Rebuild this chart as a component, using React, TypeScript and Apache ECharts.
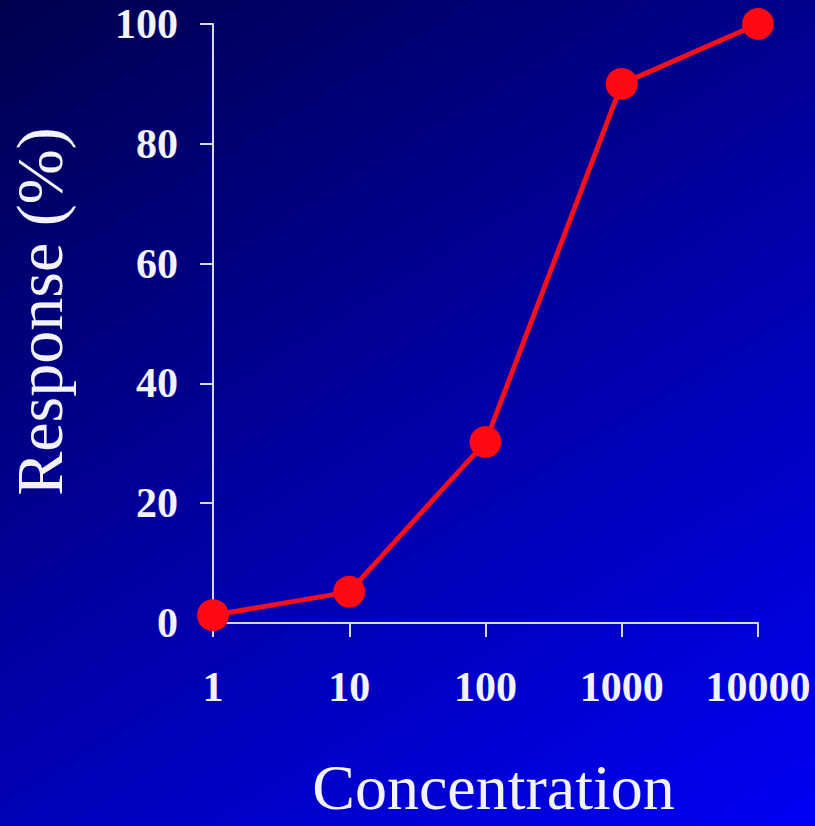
import React, { useEffect, useRef } from "react";
import * as echarts from "echarts";

const concentrations = [1, 10, 100, 1000, 10000];
const responses = [1.3, 5.2, 30.2, 90, 100];
const yTicks = [0, 20, 40, 60, 80, 100];
const xTitle = "Concentration";
const yTitle = "Response (%)";

export default function App() {
  const ref = useRef<HTMLDivElement>(null);
  useEffect(() => {
    document.body.style.margin = "0";
    const chart = echarts.init(ref.current!, null, { renderer: "svg" });
    const font = "'Liberation Serif', 'Times New Roman', serif";
    const axisColor = "#d8d8e4";
    chart.setOption({
      animation: false,
      backgroundColor: new echarts.graphic.LinearGradient(0, 0, 0.7, 1.15, [
        { offset: 0, color: "#00004e" },
        { offset: 1, color: "#0000f2" },
      ]),
      grid: { left: 213, right: 57, top: 24, bottom: 203, containLabel: false, outerBoundsMode: "none" },
      xAxis: {
        type: "log",
        logBase: 10,
        min: 1,
        max: 10000,
        name: xTitle,
        nameLocation: "middle",
        nameGap: 136,
        nameTextStyle: {
          color: "#f2f2f8",
          fontFamily: font,
          fontSize: 64,
          lineHeight: 56,
          padding: [0, 0, 0, 16],
        },
        axisLine: { show: true, lineStyle: { color: axisColor, width: 2 } },
        axisTick: { show: true, length: 14, lineStyle: { color: axisColor, width: 2 } },
        minorTick: { show: false },
        splitLine: { show: false },
        axisLabel: {
          color: "#f2f2f8",
          fontFamily: font,
          fontSize: 42,
          fontWeight: "bold",
          margin: 43,
          formatter: (v: number) => String(Math.round(v)),
        },
      },
      yAxis: {
        type: "value",
        min: yTicks[0],
        max: yTicks[yTicks.length - 1],
        interval: 20,
        name: yTitle,
        nameLocation: "middle",
        nameRotate: 90,
        nameGap: 141,
        nameTextStyle: { color: "#f2f2f8", fontFamily: font, fontSize: 66, padding: [0, 0, 0, 24] },
        axisLine: { show: true, lineStyle: { color: axisColor, width: 2 } },
        axisTick: { show: true, length: 13, lineStyle: { color: axisColor, width: 2 } },
        splitLine: { show: false },
        axisLabel: {
          color: "#f2f2f8",
          fontFamily: font,
          fontSize: 42,
          fontWeight: "bold",
          margin: 35,
        },
      },
      series: [
        {
          type: "line",
          data: concentrations.map((c, i) => [c, responses[i]]),
          clip: false,
          symbol: "circle",
          symbolSize: 32,
          lineStyle: { color: "#f4101c", width: 5 },
          itemStyle: { color: "#ff0a14" },
          z: 5,
        },
      ],
    });
    return () => chart.dispose();
  }, []);
  return <div ref={ref} style={{ width: 815, height: 826 }} />;
}
